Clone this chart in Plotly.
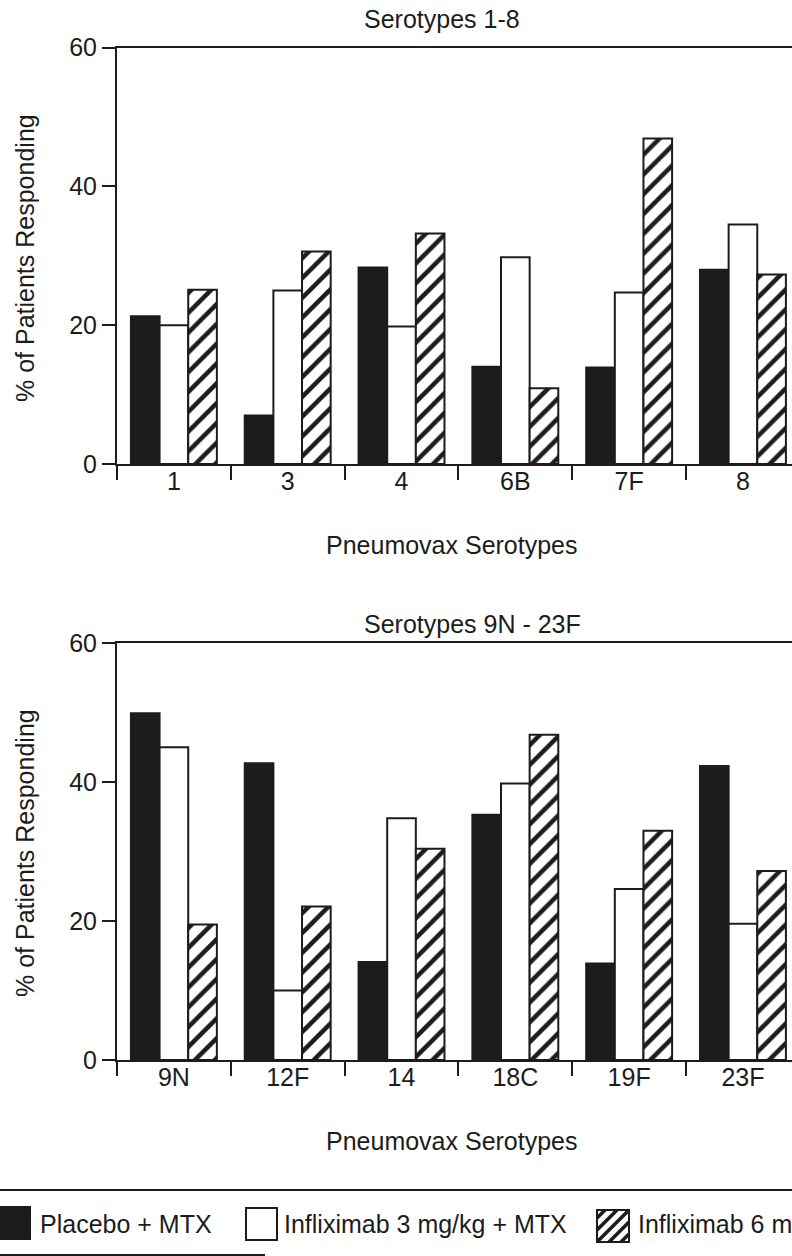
import plotly.graph_objects as go

# ---------------- data ----------------
cats_top = ["1", "3", "4", "6B", "7F", "8"]
cats_bottom = ["9N", "12F", "14", "18C", "19F", "23F"]

placebo_top = [21.3, 7.0, 28.3, 14.0, 13.9, 28.0]
inflix3_top = [20.0, 25.0, 19.8, 29.8, 24.7, 34.5]
inflix6_top = [25.1, 30.6, 33.2, 10.9, 46.9, 27.3]

placebo_bottom = [49.9, 42.7, 14.1, 35.3, 13.9, 42.3]
inflix3_bottom = [45.0, 10.0, 34.8, 39.8, 24.6, 19.6]
inflix6_bottom = [19.5, 22.1, 30.4, 46.8, 33.0, 27.2]

series_names = ["Placebo + MTX", "Infliximab 3 mg/kg + MTX", "Infliximab 6 mg/kg + MTX"]
panel_titles = ["Serotypes 1-8", "Serotypes 9N - 23F"]
x_title = "Pneumovax Serotypes"
y_title = "% of Patients Responding"
y_ticks = [0, 20, 40, 60]

# ---------------- styling ----------------
W, H = 792, 1256
INK = "#1c1c1c"
FONT = "Liberation Sans, Arial, Helvetica, sans-serif"
FS = 25


def px(x):
    return x / W


def py(y):
    return 1 - y / H


fig = go.Figure()

styles = [
    dict(marker=dict(color=INK, line=dict(color=INK, width=2))),
    dict(marker=dict(color="white", line=dict(color=INK, width=2))),
    dict(marker=dict(color="white", line=dict(color=INK, width=2),
                     pattern=dict(shape="/", fgcolor=INK, bgcolor="white",
                                  size=14, solidity=0.32, fillmode="replace"))),
]

panels = [
    (cats_top, [placebo_top, inflix3_top, inflix6_top], "x", "y"),
    (cats_bottom, [placebo_bottom, inflix3_bottom, inflix6_bottom], "x2", "y2"),
]
for cats, vals, xa, ya in panels:
    for name, v, st in zip(series_names, vals, styles):
        fig.add_trace(go.Bar(x=cats, y=v, name=name, xaxis=xa, yaxis=ya,
                             showlegend=False, **st))

xrange = [-0.5, 5.431]
xdom = [px(117), 1.0]
ydom_top = [py(464), py(47.5)]
ydom_bot = [py(1060), py(643)]

xcommon = dict(domain=xdom, range=xrange, type="category", showline=True,
               linecolor=INK, linewidth=2, mirror=True, ticks="outside",
               tickson="boundaries", ticklen=14, tickwidth=2, tickcolor=INK,
               showgrid=False, zeroline=False, automargin=False,
               tickfont=dict(family=FONT, size=FS, color=INK),
               ticklabelstandoff=-6)
ycommon = dict(range=[0, 60], tickvals=y_ticks, showline=True, linecolor=INK,
               linewidth=2, ticks="outside", ticklen=13, tickwidth=2,
               tickcolor=INK, showgrid=False, zeroline=False, automargin=False,
               tickfont=dict(family=FONT, size=FS, color=INK))

fig.update_layout(
    width=W, height=H,
    margin=dict(l=0, r=0, t=0, b=0),
    paper_bgcolor="white", plot_bgcolor="white",
    barmode="group", bargap=0.245, bargroupgap=0,
    font=dict(family=FONT, size=FS, color=INK),
    xaxis=dict(anchor="y", **xcommon),
    yaxis=dict(anchor="x", domain=ydom_top, **ycommon),
    xaxis2=dict(anchor="y2", **xcommon),
    yaxis2=dict(anchor="x2", domain=ydom_bot, **ycommon),
)

ann = []
# panel titles
for t, yy in zip(panel_titles, [19, 624]):
    ann.append(dict(text=t, x=px(362), y=py(yy), xanchor="left", yanchor="middle"))
# x titles
for yy in [545, 1141]:
    ann.append(dict(text=x_title, x=px(452), y=py(yy), xanchor="center", yanchor="middle"))
# y titles
for yy in [258, 853]:
    ann.append(dict(text=y_title, x=px(25), y=py(yy), xanchor="center", yanchor="middle",
                    textangle=-90))
# legend texts
for t, xx in zip(series_names, [38, 282, 636]):
    ann.append(dict(text=t, x=px(xx), y=py(1224), xanchor="left", yanchor="middle"))

for a in ann:
    a.update(xref="paper", yref="paper", showarrow=False,
             font=dict(family=FONT, size=FS, color=INK))
fig.update_layout(annotations=ann)

shapes = []
# legend rules
shapes.append(dict(type="line", x0=0, x1=1, y0=py(1190), y1=py(1190),
                   line=dict(color=INK, width=2)))
shapes.append(dict(type="line", x0=0, x1=px(265), y0=py(1255), y1=py(1255),
                   line=dict(color=INK, width=2)))
# legend swatches
shapes.append(dict(type="rect", x0=px(-2), x1=px(30), y0=py(1239), y1=py(1207),
                   fillcolor=INK, line=dict(color=INK, width=2)))
shapes.append(dict(type="rect", x0=px(246), x1=px(277), y0=py(1240), y1=py(1208),
                   fillcolor="white", line=dict(color=INK, width=2)))
hx0, hy0, hs = 597, 1242, 32
shapes.append(dict(type="rect", x0=px(hx0), x1=px(hx0 + hs), y0=py(hy0), y1=py(hy0 - hs),
                   fillcolor="white", line=dict(color=INK, width=2)))
for d in [-24, -12, 0, 12, 24]:
    u0 = max(0, -d)
    u1 = min(hs, hs - d)
    shapes.append(dict(type="line",
                       x0=px(hx0 + u0), y0=py(hy0 - (u0 + d)),
                       x1=px(hx0 + u1), y1=py(hy0 - (u1 + d)),
                       line=dict(color=INK, width=3.5)))
for s in shapes:
    s.update(xref="paper", yref="paper")
fig.update_layout(shapes=shapes)

fig.write_html("out.html",
               config={"displayModeBar": False},
               post_script="document.body.style.margin='0';document.body.style.overflow='hidden';")
